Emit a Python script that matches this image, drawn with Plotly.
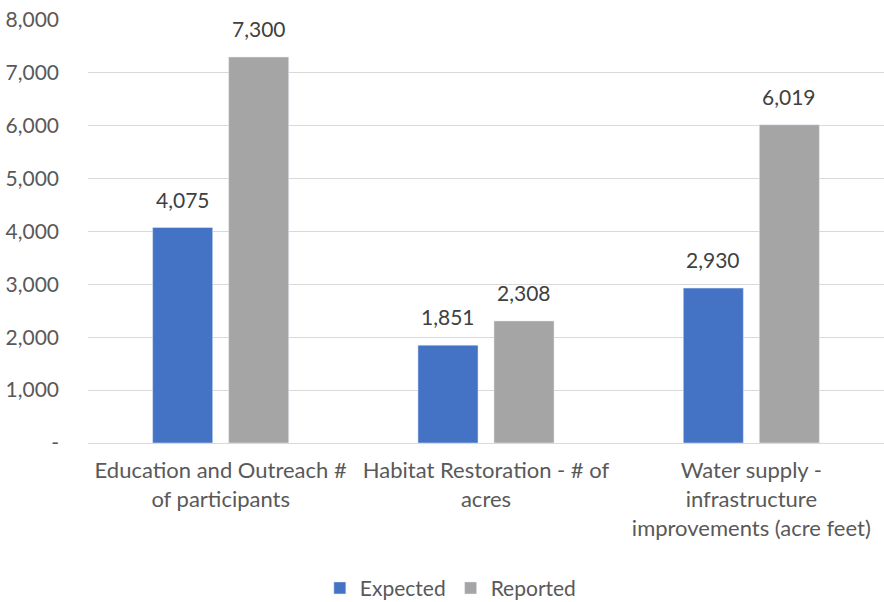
import plotly.graph_objects as go

categories = ["Education and Outreach #<br>of participants",
              "Habitat Restoration - # of<br>acres",
              "Water supply -<br>infrastructure<br>improvements (acre feet)"]
expected = [4075, 1851, 2930]
reported = [7300, 2308, 6019]
tick_vals = [0, 1000, 2000, 3000, 4000, 5000, 6000, 7000, 8000]
tick_text = ["-", "1,000", "2,000", "3,000", "4,000", "5,000", "6,000", "7,000", "8,000"]

FONT = "Lato"
FS = 21
fig = go.Figure()
fig.add_bar(name="Expected", x=categories, y=expected, marker_color="#4472C4")
fig.add_bar(name="Reported", x=categories, y=reported, marker_color="#A5A5A5")

for vals, shift in ((expected, -38), (reported, 38)):
    for c, v in zip(categories, vals):
        fig.add_annotation(x=c, y=v, xref="x", yref="y", text=f"{v:,}",
                           showarrow=False, yanchor="bottom", xshift=shift, yshift=14,
                           font=dict(family=FONT, size=FS, color="#404040"))

fig.update_layout(
    width=884, height=602,
    margin=dict(l=88, r=0, t=20, b=159, autoexpand=False),
    paper_bgcolor="white", plot_bgcolor="white",
    font=dict(family=FONT, size=FS, color="#595959"),
    barmode="group", bargap=0.427, bargroupgap=0.21,
    legend=dict(orientation="h", xref="container", x=0.51, xanchor="center",
                y=-0.295, yanchor="top",
                font=dict(size=FS, color="#595959"), itemwidth=30),
    showlegend=True,
)
fig.update_yaxes(range=[0, 8000], tickvals=tick_vals, ticktext=tick_text,
                 showgrid=True, gridcolor="#D9D9D9", gridwidth=1, automargin=False,
                 zeroline=False, showline=False, ticks="", ticklabelstandoff=28)
fig.update_xaxes(showline=True, linecolor="#D9D9D9", ticks="", showgrid=False,
                 automargin=False, ticklabelstandoff=8, tickfont=dict(size=22))

fig.write_html("out.html", config={"displayModeBar": False},
               post_script="document.body.style.margin='0';")
